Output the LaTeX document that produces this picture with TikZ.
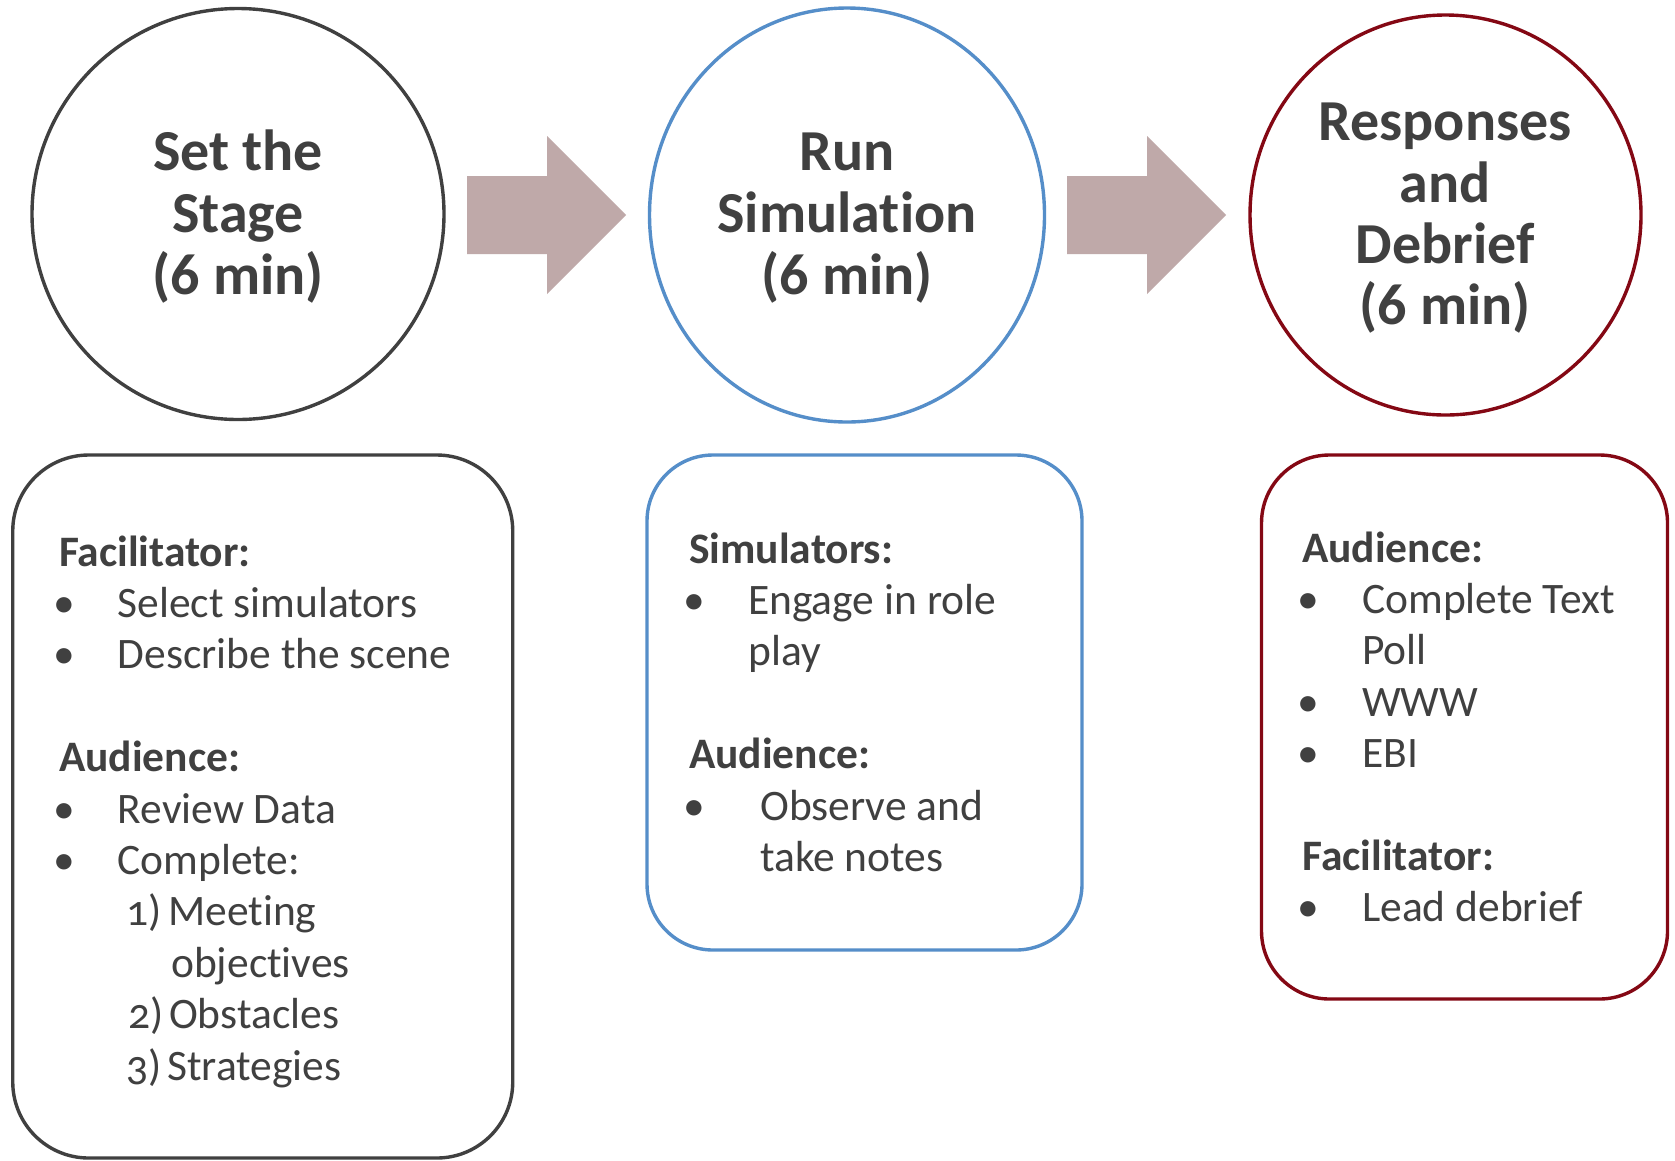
\documentclass[tikz,border=0pt]{standalone}
\usepackage{fontspec}
\setmainfont{Carlito}[Ligatures={NoCommon,NoContextual}]
\usetikzlibrary{shapes.geometric}

\definecolor{inkgray}{RGB}{64,64,64}
\definecolor{stagegray}{RGB}{64,64,64}
\definecolor{runblue}{RGB}{85,142,201}
\definecolor{debriefred}{RGB}{132,8,20}
\definecolor{flowrose}{RGB}{191,169,169}

\tikzset{
  phase/.style={ellipse, draw, line width=3.4pt, inner sep=0pt},
  panel/.style={rectangle, draw, line width=3.4pt, rounded corners=#1, inner sep=0pt},
  titleline/.style={anchor=base, inner sep=0pt, text=inkgray,
    font=\fontsize{58}{62}\selectfont\bfseries},
  headline/.style={anchor=base west, inner sep=0pt, text=inkgray,
    font=\fontsize{43.5}{51}\selectfont\bfseries},
  itemline/.style={anchor=base west, inner sep=0pt, text=inkgray,
    font=\fontsize{43.5}{51}\selectfont},
  numline/.style={anchor=base west, inner sep=0pt, text=inkgray,
    font=\fontsize{43.5}{51}\selectfont\addfontfeatures{Numbers=OldStyle}},
  bulletdot/.style={anchor=base, inner sep=0pt, text=inkgray,
    font=\fontsize{43.5}{51}\selectfont},
  flow/.style={fill=flowrose, draw=none},
}

\begin{document}
\begin{tikzpicture}[x=1pt, y=-1pt]
\useasboundingbox[fill=white] (0,0) rectangle (1675,1160);

% ---- phase circles ----
\node[phase, draw=stagegray, minimum width=412pt, minimum height=411pt] (stage) at (238,214) {};
\node[phase, draw=runblue, minimum width=395pt, minimum height=414pt] (run) at (847,215) {};
\node[phase, draw=debriefred, minimum width=391pt, minimum height=400pt] (debrief) at (1445.5,215) {};

% ---- block arrows between phases ----
\fill[flow] (467,176) -- (547,176) -- (547,136) -- (626,215) -- (547,294)
  -- (547,254) -- (467,254) -- cycle;
\fill[flow] (1067,176) -- (1147,176) -- (1147,136) -- (1226,215) -- (1147,294)
  -- (1147,254) -- (1067,254) -- cycle;

% ---- phase titles ----
\node[titleline] (t1a) at (238,170) {Set the};
\node[titleline] (t1b) at (238,232) {Stage};
\node[titleline] (t1c) at (238,294) {(6 min)};

\node[titleline] (t2a) at (847,170) {Run};
\node[titleline] (t2b) at (847,232) {Simulation};
\node[titleline] (t2c) at (847,294) {(6 min)};

\node[titleline] (t3a) at (1445,140) {Responses};
\node[titleline] (t3b) at (1445,202) {and};
\node[titleline] (t3c) at (1445,263) {Debrief};
\node[titleline] (t3d) at (1445,324) {(6 min)};

% ---- task panels ----
\node[panel=76pt, draw=stagegray, minimum width=500pt, minimum height=703pt] (box1) at (262.75,806.5) {};
\node[panel=66pt, draw=runblue, minimum width=435pt, minimum height=495pt] (box2) at (864.5,702.5) {};
\node[panel=68pt, draw=debriefred, minimum width=406pt, minimum height=544pt] (box3) at (1464.5,727) {};

% panel 1: set the stage
\node[headline] (p1h1) at (58.8,566) {Facilitator:};
\node[bulletdot] (p1d1) at (64,617.4) {•};
\node[itemline] (p1i1) at (117.5,617.4) {Select simulators};
\node[bulletdot] (p1d2) at (64,668.8) {•};
\node[itemline] (p1i2) at (117.5,668.8) {Describe the scene};
\node[headline] (p1h2) at (58.8,771.6) {Audience:};
\node[bulletdot] (p1d3) at (64,823) {•};
\node[itemline] (p1i3) at (117.5,823) {Review Data};
\node[bulletdot] (p1d4) at (64,874.4) {•};
\node[itemline] (p1i4) at (117.5,874.4) {Complete:};
\node[numline] (p1n1) at (126,925.8) {1)};
\node[itemline] (p1s1) at (168,925.8) {Meeting};
\node[itemline] (p1s1b) at (171,977.2) {objectives};
\node[numline] (p1n2) at (128,1028.6) {2)};
\node[itemline] (p1s2) at (169,1028.6) {Obstacles};
\node[numline] (p1n3) at (126,1080) {3)};
\node[itemline] (p1s3) at (167,1080) {Strategies};

% panel 2: run simulation
\node[headline] (p2h1) at (689,563) {Simulators:};
\node[bulletdot] (p2d1) at (694,614.4) {•};
\node[itemline] (p2i1) at (748,614.4) {Engage in role};
\node[itemline] (p2i1b) at (748,665.8) {play};
\node[headline] (p2h2) at (689,768.6) {Audience:};
\node[bulletdot] (p2d2) at (694,820) {•};
\node[itemline] (p2i2) at (760,820) {Observe and};
\node[itemline] (p2i2b) at (760,871.4) {take notes};

% panel 3: responses and debrief
\node[headline] (p3h1) at (1302,562) {Audience:};
\node[bulletdot] (p3d1) at (1308,613.4) {•};
\node[itemline] (p3i1) at (1362,613.4) {Complete Text};
\node[itemline] (p3i1b) at (1362,664.8) {Poll};
\node[bulletdot] (p3d2) at (1308,716.2) {•};
\node[itemline] (p3i2) at (1362,716.2) {WWW};
\node[bulletdot] (p3d3) at (1308,767.6) {•};
\node[itemline] (p3i3) at (1362,767.6) {EBI};
\node[headline] (p3h2) at (1302,870.4) {Facilitator:};
\node[bulletdot] (p3d4) at (1308,921.8) {•};
\node[itemline] (p3i4) at (1362,921.8) {Lead debrief};
\end{tikzpicture}
\end{document}
